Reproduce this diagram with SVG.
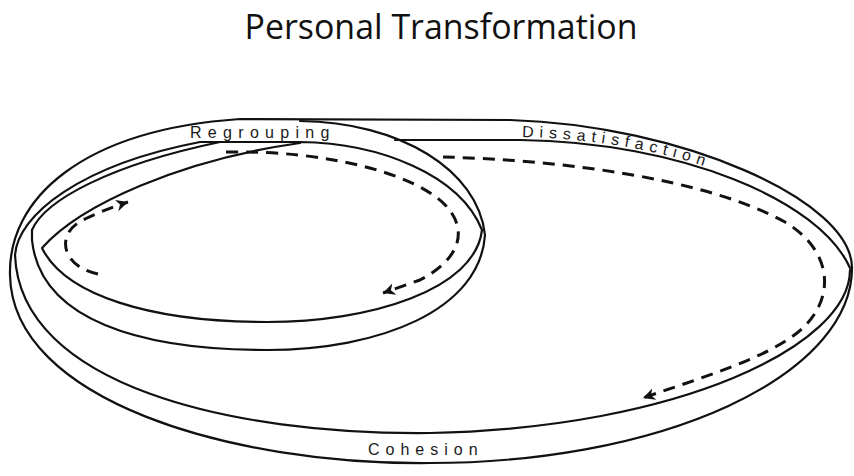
<svg xmlns="http://www.w3.org/2000/svg" width="854" height="476" viewBox="0 0 854 476">
<defs>
<marker id="ah" markerUnits="userSpaceOnUse" markerWidth="12" markerHeight="12" refX="10" refY="5" orient="auto" viewBox="0 0 10 10"><path d="M0,0 L10,5 L0,10 L3,5 z" fill="#111"/></marker>
<path id="dpath" d="M 518,137 C 680,139 818,197 848,265"/>
</defs>
<style>
.rim{fill:none;stroke:#111;stroke-width:2.2;stroke-linecap:round;stroke-linejoin:round}
.flow{fill:none;stroke:#111;stroke-width:3;stroke-dasharray:12 8}
.band{font-family:"Liberation Sans",Arial,sans-serif;font-size:16px;fill:#1a1a1a}
.title{font-family:"Open Sans",sans-serif;font-size:34px;fill:#111}
</style>
<rect width="854" height="476" fill="#fff"/>
<text class="title" x="441" y="39" text-anchor="middle" textLength="393" lengthAdjust="spacingAndGlyphs">Personal Transformation</text>

<g id="big-ring">
<path class="rim" d="M 10,275 C 8,200 80,130 240,119 L 510,120 C 680,125 852,200 852,268 A 422 195 0 0 1 430,463 C 230,465 12,400 10,275 Z"/>
<path class="rim" d="M 850,270 C 850,345 680,428 430,433 C 230,435 20,385 15,255 C 18,215 80,165 200,142 L 300,142"/>
<path class="rim" d="M 395,140 L 520,140 C 680,142 820,200 850,268"/>
</g>

<g id="small-ring">
<path class="rim" d="M 300,121 C 400,122 478,170 485,235 C 480,310 380,350 267,350 C 140,350 40,320 32,240 L 32,230 C 45,200 110,165 220,142"/>
<path class="rim" d="M 300,142 C 380,143 460,175 482,230 C 475,290 370,322 267,322 C 150,322 65,295 42,248 C 80,205 180,160 300,143"/>
</g>

<g id="labels">
<text class="band" x="190" y="138" letter-spacing="6.3">Regrouping</text>
<text class="band" font-size="15" letter-spacing="5.8"><textPath href="#dpath" startOffset="4">Dissatisfaction</textPath></text>
<text class="band" x="368" y="455" letter-spacing="6">Cohesion</text>
</g>

<g id="connectors">
<path class="flow" marker-end="url(#ah)" d="M 98,274 C 60,266 55,232 85,219 C 98,213 112,207 128,202"/>
<path class="flow" marker-end="url(#ah)" d="M 226,152 C 330,150 420,175 448,208 C 470,235 455,262 420,280 L 383,293"/>
<path class="flow" marker-end="url(#ah)" d="M 443,157 C 560,160 705,178 785,222 C 835,252 836,302 797,333 C 762,360 700,378 643,398"/>
</g>
</svg>
